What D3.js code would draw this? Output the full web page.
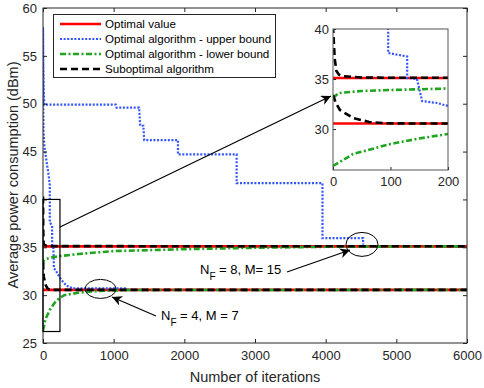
<!DOCTYPE html>
<html>
<head>
<meta charset="utf-8">
<script src="https://cdn.jsdelivr.net/npm/d3@7"></script>
<style>
  body { margin: 0; background: #fff; }
  svg { font-family: "Liberation Sans", Arial, sans-serif; }
  .tick text { fill: #262626; }
</style>
</head>
<body>
<svg id="chart" width="484" height="388"></svg>
<script>
// values: [iteration, dBm]
const optimalHigh = [[0, 35.1], [6000, 35.1]];
const optimalLow = [[0, 30.55], [6000, 30.55]];

const upperHigh = [[0, 58], [4, 54], [10, 51.5], [18, 49.9], [1030, 49.9], [1040, 49.6], [1360, 49.6],
  [1375, 47.7], [1420, 47.7], [1433, 46.2], [1910, 46.2], [1910, 44.7], [2740, 44.7], [2740, 41.7],
  [3955, 41.7], [3955, 35.95], [4530, 35.95], [4530, 35.3]];
const upperLow = [[0, 57.8], [3, 50], [8, 47], [20, 45.5], [50, 44], [80, 42.5], [96, 41.5], [96, 37.6],
  [129, 37.25], [129, 35.1], [146, 35], [155, 32.8], [181, 32.6], [200, 32.3], [260, 31.6], [330, 31.0],
  [420, 30.7], [1190, 30.7], [1200, 30.55]];

const lowerHigh = [[0, 33.1], [10, 33.6], [50, 33.8], [100, 33.9], [200, 34.05], [500, 34.3],
  [1000, 34.6], [2000, 34.8], [3000, 34.95], [4000, 35.05], [6000, 35.1]];
const lowerLow = [[0, 26.3], [35, 27.5], [100, 28.5], [150, 29.05], [200, 29.5], [250, 29.75],
  [300, 30.0], [500, 30.25], [800, 30.45], [1200, 30.53], [6000, 30.55]];

const subHigh = [[0, 40.3], [3, 37], [6, 35.8], [10, 35.45], [15, 35.3], [50, 35.15], [100, 35.12], [6000, 35.1]];
const subLow = [[0, 33.4], [5, 32.6], [12, 31.9], [35, 31.1], [63, 30.7], [92, 30.57], [150, 30.55], [6000, 30.55]];

const xTicks = [0, 1000, 2000, 3000, 4000, 5000, 6000];
const yTicks = [25, 30, 35, 40, 45, 50, 55, 60];
const insetXTicks = [0, 100, 200];
const insetYTicks = [30, 35, 40];

const legendLabels = ["Optimal value", "Optimal algorithm - upper bound",
  "Optimal algorithm - lower bound", "Suboptimal algorithm"];

const styles = [
  {stroke: "#ff0000", width: 2.6, dash: null},
  {stroke: "#3355ff", width: 2.2, dash: "2,1.6"},
  {stroke: "#1fa51f", width: 2.6, dash: "6,2.5,2,2.5"},
  {stroke: "#000000", width: 2.6, dash: "7,4"}
];
const series = [
  [optimalHigh, optimalLow],
  [upperHigh, upperLow],
  [lowerHigh, lowerLow],
  [subHigh, subLow]
];

const svg = d3.select("#chart");
const axisColor = "#262626";

const x = d3.scaleLinear().domain([0, 6000]).range([43, 467]);
const y = d3.scaleLinear().domain([25, 60]).range([343, 8]);

const defs = svg.append("defs");
defs.append("clipPath").attr("id", "mainClip").append("rect")
  .attr("x", 43).attr("y", 8).attr("width", 424).attr("height", 335);
defs.append("marker").attr("id", "arrow")
  .attr("viewBox", "0 0 10 10").attr("refX", 10).attr("refY", 5)
  .attr("markerWidth", 14).attr("markerHeight", 10).attr("markerUnits", "userSpaceOnUse")
  .attr("orient", "auto")
  .append("path").attr("d", "M0,0 L10,5 L0,10 L3,5 Z").attr("fill", "#000");

function drawLines(g, sx, sy) {
  let line = d3.line().x(d => sx(d[0])).y(d => sy(d[1]));
  series.forEach((pair, i) => {
    pair.forEach(data => {
      g.append("path")
        .attr("d", line(data))
        .attr("fill", "none")
        .attr("stroke", styles[i].stroke)
        .attr("stroke-width", styles[i].width)
        .attr("stroke-dasharray", styles[i].dash);
    });
  });
}

// main plot
svg.append("rect").attr("x", 43).attr("y", 8).attr("width", 424).attr("height", 335).attr("fill", "#fff");
drawLines(svg.append("g").attr("clip-path", "url(#mainClip)"), x, y);

function styleAxis(g) {
  g.select(".domain").remove();
  g.selectAll(".tick line").attr("stroke", axisColor);
  g.selectAll(".tick text").attr("font-size", 13);
}
svg.append("g").attr("transform", "translate(0,343)")
  .call(d3.axisBottom(x).tickValues(xTicks).tickSize(-4).tickPadding(8).tickFormat(d3.format("d")))
  .call(styleAxis);
svg.append("g").attr("transform", "translate(0,8)")
  .call(d3.axisTop(x).tickValues(xTicks).tickSize(-4).tickFormat(""))
  .call(styleAxis);
svg.append("g").attr("transform", "translate(43,0)")
  .call(d3.axisLeft(y).tickValues(yTicks).tickSize(-4).tickPadding(6))
  .call(styleAxis);
svg.append("g").attr("transform", "translate(467,0)")
  .call(d3.axisRight(y).tickValues(yTicks).tickSize(-4).tickFormat(""))
  .call(styleAxis);
svg.append("rect").attr("x", 43).attr("y", 8).attr("width", 424).attr("height", 335)
  .attr("fill", "none").attr("stroke", axisColor).attr("stroke-width", 1);

svg.append("text").attr("x", 255).attr("y", 382).attr("text-anchor", "middle")
  .attr("font-size", 14.5).attr("fill", axisColor).text("Number of iterations");
svg.append("text").attr("transform", "translate(18,175) rotate(-90)").attr("text-anchor", "middle")
  .attr("font-size", 14.5).attr("fill", axisColor).text("Average power consumption (dBm)");

// zoom rectangle and annotations
svg.append("rect")
  .attr("x", x(0)).attr("y", y(40)).attr("width", x(240) - x(0)).attr("height", y(26.2) - y(40))
  .attr("fill", "none").attr("stroke", "#000").attr("stroke-width", 1.2);
svg.append("line").attr("x1", 60).attr("y1", 227).attr("x2", 331).attr("y2", 96)
  .attr("stroke", "#000").attr("stroke-width", 1.2).attr("marker-end", "url(#arrow)");

svg.append("ellipse").attr("cx", x(814)).attr("cy", y(30.65)).attr("rx", 15.5).attr("ry", 9.5)
  .attr("fill", "none").attr("stroke", "#000").attr("stroke-width", 1);
svg.append("ellipse").attr("cx", x(4514)).attr("cy", y(35.3)).attr("rx", 16).attr("ry", 12)
  .attr("fill", "none").attr("stroke", "#000").attr("stroke-width", 1);
svg.append("line").attr("x1", 156).attr("y1", 316).attr("x2", 112).attr("y2", 297)
  .attr("stroke", "#000").attr("stroke-width", 1.2).attr("marker-end", "url(#arrow)");
svg.append("line").attr("x1", 287).attr("y1", 272).attr("x2", 350).attr("y2", 250)
  .attr("stroke", "#000").attr("stroke-width", 1.2).attr("marker-end", "url(#arrow)");

function label(xp, yp, main, sub, rest) {
  let t = svg.append("text").attr("x", xp).attr("y", yp).attr("font-size", 13).attr("fill", "#000");
  t.append("tspan").text(main);
  t.append("tspan").attr("dy", 6).attr("font-size", 10).text(sub);
  t.append("tspan").attr("dy", -6).text(rest);
}
label(161, 320, "N", "F", " = 4, M = 7");
label(200, 274, "N", "F", " = 8, M= 15");

// legend
const legend = svg.append("g");
legend.append("rect").attr("x", 53.5).attr("y", 14.5).attr("width", 222).attr("height", 63)
  .attr("fill", "#fff").attr("stroke", axisColor).attr("stroke-width", 1);
legendLabels.forEach((name, i) => {
  let ly = 24 + i * 15;
  legend.append("line").attr("x1", 60).attr("x2", 101).attr("y1", ly).attr("y2", ly)
    .attr("stroke", styles[i].stroke).attr("stroke-width", styles[i].width)
    .attr("stroke-dasharray", styles[i].dash);
  legend.append("text").attr("x", 105).attr("y", ly + 4).attr("font-size", 11.6)
    .attr("fill", "#000").text(name);
});

// inset
const ix = d3.scaleLinear().domain([0, 200]).range([333, 448]);
const iy = d3.scaleLinear().domain([25.9, 40]).range([170, 29]);
defs.append("clipPath").attr("id", "insetClip").append("rect")
  .attr("x", 333).attr("y", 29).attr("width", 115).attr("height", 141);
svg.append("rect").attr("x", 333).attr("y", 29).attr("width", 115).attr("height", 141).attr("fill", "#fff");
drawLines(svg.append("g").attr("clip-path", "url(#insetClip)"), ix, iy);
svg.append("g").attr("transform", "translate(0,170)")
  .call(d3.axisBottom(ix).tickValues(insetXTicks).tickSize(-3).tickPadding(7))
  .call(styleAxis);
svg.append("g").attr("transform", "translate(333,0)")
  .call(d3.axisLeft(iy).tickValues(insetYTicks).tickSize(-3).tickPadding(4))
  .call(styleAxis);
svg.append("rect").attr("x", 333).attr("y", 29).attr("width", 115).attr("height", 141)
  .attr("fill", "none").attr("stroke", "#555").attr("stroke-width", 1);
</script>
</body>
</html>
